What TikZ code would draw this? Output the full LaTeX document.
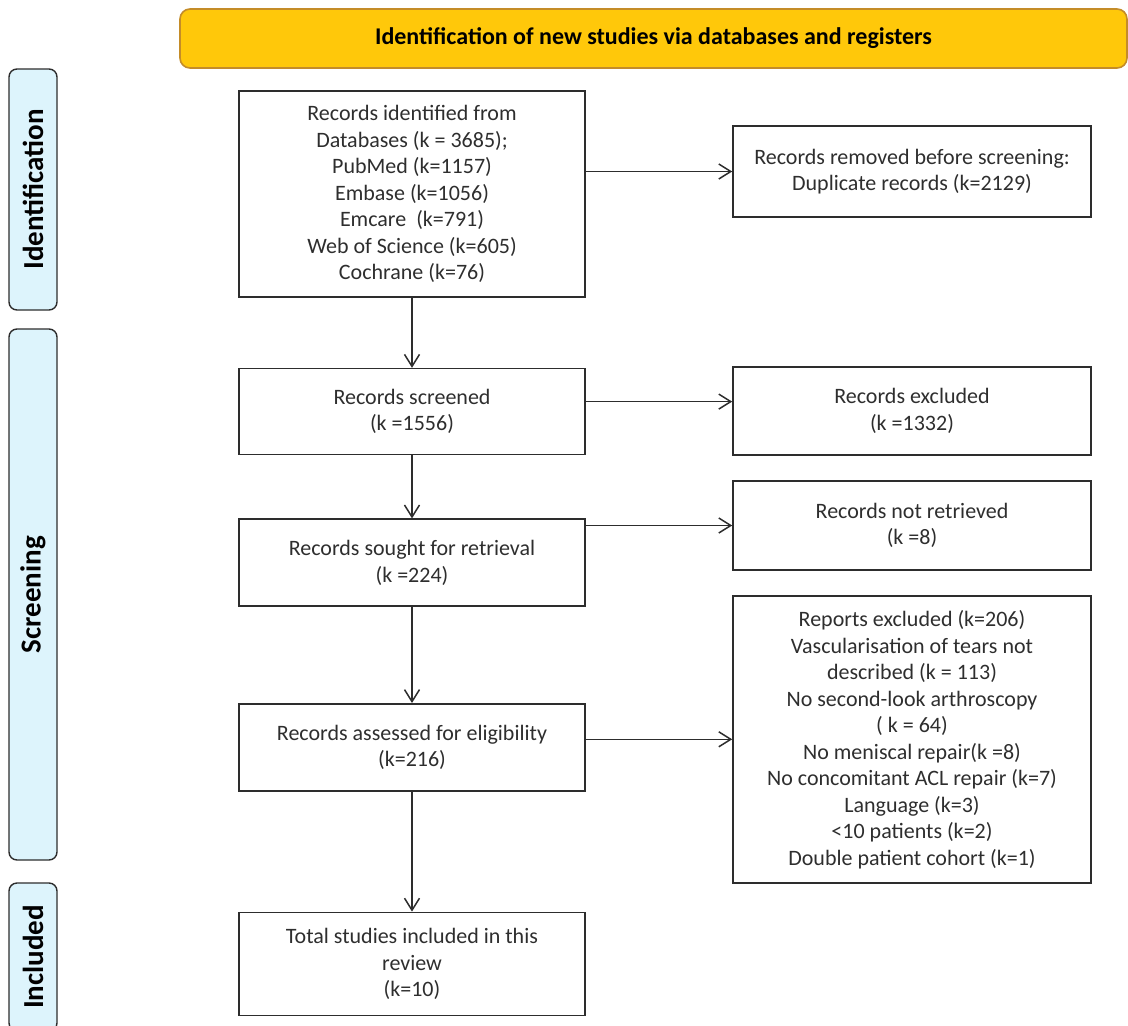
\documentclass[tikz,border=0pt]{standalone}
\usepackage{fontspec}
\setmainfont{Carlito}
\usetikzlibrary{arrows.meta,positioning}

\definecolor{bannerfill}{RGB}{255,200,10}
\definecolor{bannerline}{RGB}{196,140,40}
\definecolor{phasefill}{RGB}{221,244,252}
\definecolor{boxline}{RGB}{45,45,45}

\tikzset{
	stage/.style={draw=boxline, line width=1.6pt, rectangle, align=center, text=black!82, font=\fontsize{22}{26.5}\selectfont, inner sep=4pt},
	phase/.style={draw=boxline, line width=1.4pt, rounded corners=8pt, fill=phasefill, rotate=90, minimum height=48pt, font=\fontsize{29}{30}\selectfont\bfseries},
	flow/.style={-{Straight Barb[length=12pt,width=15pt]}, line width=1.5pt, draw=boxline}
}

\begin{document}
\begin{tikzpicture}[x=1pt, y=-1pt]
			\useasboundingbox (0,0) rectangle (1128,1026);
			\clip (0,0) rectangle (1128,1026);
			
			\node[draw=bannerline, line width=1.6pt, fill=bannerfill, rounded corners=10pt, minimum width=947pt, minimum height=59pt, font=\fontsize{24}{26}\selectfont\bfseries] (head) at (653.5,38.5) {Identification of new studies via databases and registers};
			
			% phases
			\node[phase, minimum width=241pt] (ident) at (33,189.5) {Identification};
			\node[phase, minimum width=531pt] (screen) at (33,594.5) {Screening};
			\node[phase, minimum width=148pt] (incl) at (33,957) {Included};
			
			% main column
			\node[stage, minimum width=346pt, minimum height=206pt] (found) at (412,194) {Records identified from\\Databases (k = 3685);\\PubMed (k=1157)\\Embase (k=1056)\\Emcare~~(k=791)\\Web of Science (k=605)\\Cochrane (k=76)};
			
			\node[stage, minimum width=346pt, minimum height=86pt, below = 70pt of found] (screened) {Records screened\\(k =1556)};
			
			\node[stage, minimum width=346pt, minimum height=87pt, below = 63pt of screened] (sought) {Records sought for retrieval\\(k =224)};
			
			\node[stage, minimum width=346pt, minimum height=87pt, below = 96pt of sought] (assessed) {Records assessed for eligibility\\(k=216)};
			
			\node[stage, minimum width=346pt, minimum height=103pt, below = 120pt of assessed] (studies) {Total studies included in this\\review\\(k=10)};
			
			% side column
			\node[stage, minimum width=358pt, minimum height=91pt] (removed) at (912,171.5) {Records removed before screening:\\Duplicate records (k=2129)};
			
			\node[stage, minimum width=358pt, minimum height=88pt] (excluded) at (912,411) {Records excluded\\(k =1332)};
			
			\node[stage, minimum width=358pt, minimum height=89pt] (notfound) at (912,525.5) {Records not retrieved\\(k =8)};
			
			\node[stage, minimum width=358pt, minimum height=287pt] (reports) at (912,739.5) {Reports excluded (k=206)\\Vascularisation of tears not\\described (k = 113)\\No second-look arthroscopy\\( k = 64)\\No meniscal repair(k =8)\\No concomitant ACL repair (k=7)\\Language (k=3)\\<10 patients (k=2)\\Double patient cohort (k=1)};
			
			\draw[flow] (found) -- (screened);
			\draw[flow] (screened) -- (sought);
			\draw[flow] (sought) -- (assessed);
			\draw[flow] (assessed) -- (studies);
			
			\draw[flow] (found.east |- removed.west) -- (removed.west);
			\draw[flow] ([yshift=10pt]screened.east) -- ([yshift=10pt]screened.east -| excluded.west);
			\draw[flow] (sought.east |- notfound.west) -- (notfound.west);
			\draw[flow] ([yshift=8pt]assessed.east) -- ([yshift=8pt]assessed.east -| reports.west);
		\end{tikzpicture}
\end{document}
